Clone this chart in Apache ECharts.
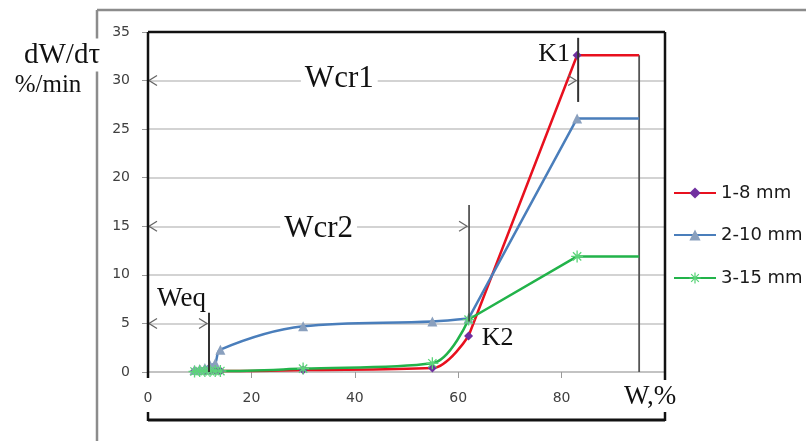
<!DOCTYPE html>
<html><head><meta charset="utf-8">
<script src="https://cdn.jsdelivr.net/npm/echarts@6/dist/echarts.min.js"></script>
<style>html,body{margin:0;padding:0;background:#fff}#c{width:806px;height:441px}</style>
</head><body><div id="c"></div>
<script>
// ---- data ----
const seriesNames = ['1-8 mm', '2-10 mm', '3-15 mm'];
const redData   = [[9,0.1],[10,0.1],[11,0.1],[12,0.15],[13,0.15],[14,0.1],[30,0.2],[55,0.4],[62,3.7],[83,32.6],[95,32.6]];
const blueData  = [[9,0.2],[10,0.3],[11,0.4],[12,0.7],[13,0.9],[14,2.3],[30,4.7],[55,5.2],[62,5.5],[83,26.1],[95,26.1]];
const greenData = [[9,0.05],[10,0.1],[11,0.1],[12,0.1],[13,0.1],[14,0.1],[30,0.35],[55,0.9],[62,5.4],[83,11.9],[95,11.9]];
const xTicks = [0, 20, 40, 60, 80];
const yTicks = [0, 5, 10, 15, 20, 25, 30, 35];
// annotation values (data units)
const wcr1 = {x: 83.2, y: 30, vTop: 34.4, vBot: 27.8, label: 'Wcr1', labelX: 37};
const wcr2 = {x: 62.1, y: 15, vTop: 17.2, vBot: 5.2, label: 'Wcr2', labelX: 33};
const weq  = {x: 11.8, y: 5,  vTop: 6.1,  vBot: 0,   label: 'Weq'};
const endLineX = 95;
const k1 = {x: 83, y: 32.6, label: 'K1'};
const k2 = {x: 62, y: 3.7, label: 'K2'};
const splitIndex = 8; // curves smoothed up to this point, straight afterwards

const colors = ['#E8101E', '#4A7EBB', '#22B34A'];
const starPath = 'path://M-1,-9L1,-9L1,9L-1,9Z M-9,-1L9,-1L9,1L-9,1Z M-6.9,-5.5L-5.5,-6.9L6.9,5.5L5.5,6.9Z M5.5,-6.9L6.9,-5.5L-5.5,6.9L-6.9,5.5Z';
const symbols = ['diamond', 'triangle', starPath];
const symSizes = [9, 10, 12];
const symColors = ['#7030A0', '#8AA0BE', '#5CD47A'];

const chart = echarts.init(document.getElementById('c'), null, {renderer:'canvas'});
const allData = [redData, blueData, greenData];
const legendTops = [184, 226, 269];

const series = [];
seriesNames.forEach((n, i) => {
  const d = allData[i];
  const common = {name: n, type: 'line', symbol: symbols[i], symbolSize: symSizes[i], showAllSymbol: true,
    lineStyle: {color: colors[i], width: 2.5}, itemStyle: {color: symColors[i], borderWidth: 0}, z: 4};
  series.push(Object.assign({}, common, {smooth: 0.35, data: d.slice(0, splitIndex + 1)}));
  const tail = d.slice(splitIndex).map((p, k, arr) => (k === 0 || k === arr.length - 1) ? {value: p, symbol: 'none'} : p);
  series.push(Object.assign({}, common, {smooth: false, data: tail}));
});

const option = {
  animation: false,
  backgroundColor: '#fff',
  grid: {left: 148, right: 141, top: 32, bottom: 69, containLabel: false},
  xAxis: {
    type: 'value', min: 0, max: 100, interval: 20,
    axisLine: {show: true, lineStyle: {color: '#BFBFBF', width: 1.5}},
    axisTick: {show: true, length: 6, lineStyle: {color: '#9A9A9A', width: 1}},
    splitLine: {show: false},
    axisLabel: {margin: 19, color: '#404040', fontFamily: 'DejaVu Sans', fontSize: 14,
      formatter: v => xTicks.indexOf(v) >= 0 ? String(v) : ''}
  },
  yAxis: {
    type: 'value', min: 0, max: 35, interval: 5,
    axisLine: {show: false},
    axisTick: {show: true, length: 6, lineStyle: {color: '#9A9A9A', width: 1}},
    splitLine: {show: true, lineStyle: {color: '#C4C4C4', width: 1.5}},
    axisLabel: {margin: 18, color: '#404040', fontFamily: 'DejaVu Sans', fontSize: 14,
      formatter: v => yTicks.indexOf(v) >= 0 ? String(v) : ''}
  },
  legend: seriesNames.map((n, i) => ({
    data: [n], left: 673, top: legendTops[i], orient: 'vertical', padding: 0,
    itemWidth: 42, itemHeight: 14, itemGap: 0,
    textStyle: {fontFamily: 'DejaVu Sans', fontSize: 18, color: '#1a1a1a', padding: [0,0,0,0]}
  })),
  series: series
};
chart.setOption(option);

const px = (x, y) => chart.convertToPixel({gridIndex: 0}, [x, y]);
const g = [];
function line(p1, p2, color, w, z){ g.push({type:'line', z: z||5, shape:{x1:p1[0],y1:p1[1],x2:p2[0],y2:p2[1]}, style:{stroke:color, lineWidth:w}}); }
function poly(pts, color, w){ g.push({type:'polyline', z:5, shape:{points:pts}, style:{stroke:color, lineWidth:w, fill:null}}); }
function text(t, cx, cy, size, z){ g.push({type:'text', z: z||3, x: cx, y: cy, style:{text:t, font: size+'px "Liberation Serif"', fill:'#111', align:'center', verticalAlign:'middle', backgroundColor:'#fff', padding:[0,4]}}); }
function arrowL(p){ poly([[p[0]+9,p[1]-5],[p[0]+1,p[1]],[p[0]+9,p[1]+5]], '#666', 1.3); }
function arrowR(p){ poly([[p[0]-10,p[1]-5],[p[0]-2,p[1]],[p[0]-10,p[1]+5]], '#666', 1.3); }

// outer frame (page decoration)
line([97,10],[806,10],'#8C8C8C',2.5,1);
line([97,10],[97,441],'#8C8C8C',2.5,1);

// plot box
const tl = px(0,35), tr = px(100,35), bl = px(0,0), br = px(100,0);
line(tl, [bl[0], bl[1]+6], '#111', 2.5, 6);
line(tl, tr, '#111', 2.5, 6);
line(tr, [br[0], br[1]+8], '#111', 2.5, 6);
// bottom bracket
line([bl[0], bl[1]+48], [br[0], br[1]+48], '#111', 3, 6);
line([bl[0], bl[1]+40], [bl[0], bl[1]+49], '#111', 2.5, 6);
line([br[0], br[1]+40], [br[0], br[1]+49], '#111', 2.5, 6);

// Wcr1
let a = px(0, wcr1.y), b = px(wcr1.x, wcr1.y);
arrowL(a); arrowR(b);
line(px(wcr1.x, wcr1.vTop), px(wcr1.x, wcr1.vBot), '#333', 2);
let lp = px(wcr1.labelX, wcr1.y); text(wcr1.label, lp[0], lp[1]-2, 31);
// Wcr2
a = px(0, wcr2.y); b = px(wcr2.x, wcr2.y);
arrowL(a); arrowR(b);
line(px(wcr2.x, wcr2.vTop), px(wcr2.x, wcr2.vBot), '#333', 1.5);
lp = px(wcr2.labelX, wcr2.y); text(wcr2.label, lp[0], lp[1]+3, 31);
// Weq
a = px(0, weq.y); b = px(weq.x, weq.y);
arrowL(a); arrowR(b);
line(px(weq.x, weq.vTop), px(weq.x, weq.vBot), '#333', 2);
lp = px(weq.x/2, weq.y); text(weq.label, lp[0]+3, lp[1]-25, 27);
// end vertical line
line(px(endLineX, k1.y), px(endLineX, 0), '#555', 1.8, 3);
// K labels
lp = px(k1.x, k1.y); text(k1.label, lp[0]-23, lp[1]-1, 26);
lp = px(k2.x, k2.y); text(k2.label, lp[0]+29, lp[1]+2, 26);
// axis titles
text('W,%', 650, 397, 27);
g.push({type:'text', z:3, x:62, y:55, style:{text:'dW/dτ', font:'29px "Liberation Serif"', fill:'#111', align:'center', verticalAlign:'middle', backgroundColor:'#fff', padding:[2,3]}});
g.push({type:'text', z:3, x:48, y:85, style:{text:'%/min', font:'25px "Liberation Serif"', fill:'#111', align:'center', verticalAlign:'middle', backgroundColor:'#fff', padding:[2,2]}});

chart.setOption({graphic: g});
</script>
</body></html>
